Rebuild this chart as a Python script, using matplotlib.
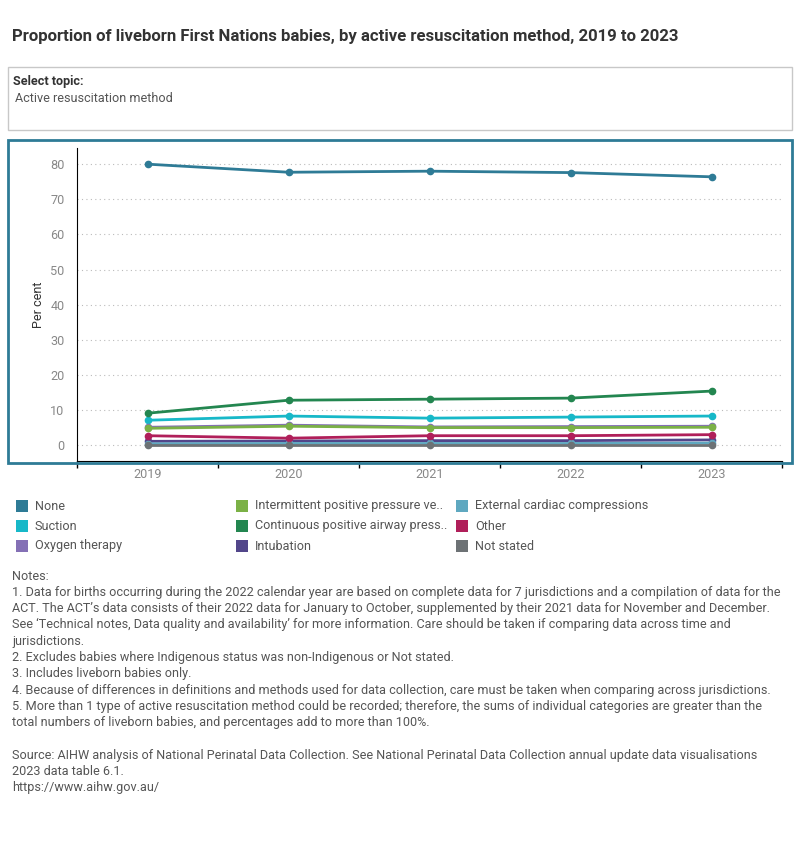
import matplotlib
matplotlib.use("Agg")
import matplotlib.pyplot as plt
from matplotlib import font_manager
from matplotlib.patches import Rectangle

years = ["2019", "2020", "2021", "2022", "2023"]

# per cent of liveborn First Nations babies
none_vals = [80.0, 77.7, 78.0, 77.6, 76.4]
suction = [7.1, 8.3, 7.7, 8.0, 8.3]
oxygen = [5.1, 5.7, 5.2, 5.3, 5.4]
ippv = [4.8, 5.4, 5.0, 5.0, 5.1]
cpap = [9.1, 12.8, 13.1, 13.4, 15.4]
intubation = [1.1, 1.2, 1.3, 1.3, 1.5]
ext_cardiac = [0.4, 0.5, 0.5, 0.5, 0.6]
other = [2.7, 2.0, 2.7, 2.7, 3.0]
not_stated = [0.1, 0.1, 0.1, 0.1, 0.1]

legend_labels = ["None", "Suction", "Oxygen therapy",
                 "Intermittent positive pressure ve..", "Continuous positive airway press..", "Intubation",
                 "External cardiac compressions", "Other", "Not stated"]

notes = [
    "Notes:",
    "1. Data for births occurring during the 2022 calendar year are based on complete data for 7 jurisdictions and a compilation of data for the",
    "ACT. The ACT\u2019s data consists of their 2022 data for January to October, supplemented by their 2021 data for November and December.",
    "See \u2018Technical notes, Data quality and availability\u2019 for more information. Care should be taken if comparing data across time and",
    "jurisdictions.",
    "2. Excludes babies where Indigenous status was non-Indigenous or Not stated.",
    "3. Includes liveborn babies only.",
    "4. Because of differences in definitions and methods used for data collection, care must be taken when comparing across jurisdictions.",
    "5. More than 1 type of active resuscitation method could be recorded; therefore, the sums of individual categories are greater than the",
    "total numbers of liveborn babies, and percentages add to more than 100%.",
    "",
    "Source: AIHW analysis of National Perinatal Data Collection. See National Perinatal Data Collection annual update data visualisations",
    "2023 data table 6.1.",
    "https://www.aihw.gov.au/",
]

# pick a narrow font if there is one
names = {f.name for f in font_manager.fontManager.ttflist}
if "Liberation Sans Narrow" in names:
    FONT = "Liberation Sans Narrow"
    fs_small, fs_title = 10.3, 13.0
else:
    FONT = "Roboto"
    fs_small, fs_title = 9.1, 12.1
plt.rcParams["font.family"] = [FONT, "DejaVu Sans"]

W, H = 800, 850
fig = plt.figure(figsize=(W / 100, H / 100), dpi=100)


def fx(px):
    return px / W


def fy(py):
    return 1 - py / H


def txt(x, y, s, **kw):
    fig.text(fx(x), fy(y), s, va="center", **kw)


txt(12, 37, "Proportion of liveborn First Nations babies, by active resuscitation method, 2019 to 2023",
    fontsize=fs_title, fontweight="bold", color="#333333")

# topic selector box
fig.patches.append(Rectangle((fx(8), fy(130)), fx(784), 63 / H, transform=fig.transFigure,
                             fill=False, ec="#c8c8c8", lw=1))
txt(13, 82, "Select topic:", fontsize=fs_small, fontweight="bold", color="#333333")
txt(15, 99, "Active resuscitation method", fontsize=fs_small, color="#555555")

# chart frame
fig.patches.append(Rectangle((fx(8), fy(463)), fx(784), 323 / H, transform=fig.transFigure,
                             fill=False, ec="#2e7b96", lw=2))

ax = fig.add_axes([fx(77), fy(461), fx(705), 313 / H])

series = [
    (none_vals, "#2e7b96"),
    (suction, "#17b8c8"),
    (oxygen, "#8470b5"),
    (ippv, "#7bb146"),
    (cpap, "#238650"),
    (intubation, "#52468a"),
    (ext_cardiac, "#5fa8c0"),
    (other, "#b01f5a"),
    (not_stated, "#6d7275"),
]
colors = [c for _, c in series]

x = range(len(years))
draw_order = [8, 6, 5, 7, 3, 2, 1, 4, 0]
for i in draw_order:
    vals, c = series[i]
    ax.plot(x, vals, color=c, lw=2.0, marker="o", ms=4.5, zorder=3 + i * 0.01)

ax.set_xlim(-0.5, 4.5)
ax.set_ylim(-4.5, 84.6)
ax.set_yticks(range(0, 81, 10))
ax.set_xticks(list(x))
ax.set_xticklabels(years)
ax.set_xticks([i - 0.5 for i in range(6)], minor=True)
ax.tick_params(axis="x", which="major", length=0, pad=5, labelsize=fs_small, labelcolor="#888888")
ax.tick_params(axis="x", which="minor", length=5, width=1, direction="out", color="black")
ax.tick_params(axis="y", length=0, pad=9, labelsize=fs_small, labelcolor="#888888")
ax.grid(axis="y", ls=(0, (1, 3)), color="#bbbbbb", lw=0.8)
ax.set_axisbelow(True)
for s in ["top", "right"]:
    ax.spines[s].set_visible(False)
ax.spines["left"].set_color("black")
ax.spines["bottom"].set_color("black")
ax.set_ylabel("Per cent", fontsize=fs_small, color="#333333", labelpad=14 - 10)

# legend as a 3x3 grid of swatches
col_x = [16, 236, 456]
row_y = [506, 526, 546]
for k, lab in enumerate(legend_labels):
    cx = col_x[k // 3]
    cy = row_y[k % 3]
    fig.patches.append(Rectangle((fx(cx), fy(cy + 6)), fx(12), 12 / H, transform=fig.transFigure,
                                 fc=colors[k], ec="none"))
    txt(cx + 19, cy, lab, fontsize=fs_small, color="#555555")

y0 = 576
for j, line in enumerate(notes):
    if line:
        txt(12, y0 + j * 16.3, line, fontsize=fs_small, color="#555555")

fig.savefig("out.png", dpi=100)
